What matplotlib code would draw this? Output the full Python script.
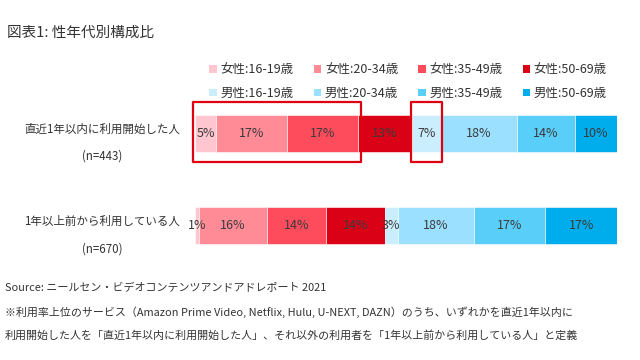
import matplotlib.pyplot as plt
import numpy as np
from matplotlib.patches import Patch, Rectangle

plt.rcParams['font.family'] = ['Noto Sans CJK JP', 'DejaVu Sans']

# rows of the chart
categories = ['直近1年以内に利用開始した人\n(n=443)', '1年以上前から利用している人\n(n=670)']

# shares in % (as printed on the bars)
female_16_19 = [5, 1]
female_20_34 = [17, 16]
female_35_49 = [17, 14]
female_50_69 = [13, 14]
male_16_19 = [7, 3]
male_20_34 = [18, 18]
male_35_49 = [14, 17]
male_50_69 = [10, 17]

series_names = ['女性:16-19歳', '女性:20-34歳', '女性:35-49歳', '女性:50-69歳',
                '男性:16-19歳', '男性:20-34歳', '男性:35-49歳', '男性:50-69歳']
series_values = [female_16_19, female_20_34, female_35_49, female_50_69,
                 male_16_19, male_20_34, male_35_49, male_50_69]
colors = ['#FFC6CF', '#FF8B96', '#FF4C5D', '#DA0016',
          '#CBEEFF', '#9BE1FF', '#59CEF9', '#00ADEC']

vals = np.array(series_values, dtype=float)
shares = vals / vals.sum(axis=0) * 100  # 100% stacked

fig = plt.figure(figsize=(6.4, 3.6), dpi=100)
ax = fig.add_axes([195/640, 1 - 260/360, 422/640, 160/360])

y = np.arange(len(categories))
left = np.zeros(len(categories))
handles = []
for name, v, s, c in zip(series_names, vals, shares, colors):
    bars = ax.barh(y, s, left=left, height=0.4, color=c, edgecolor='white', linewidth=0.4)
    ax.bar_label(bars, labels=[f'{int(x)}%' for x in v], label_type='center',
                 fontsize=9, color='#3a3a3a')
    left = left + s
    handles.append(Patch(facecolor=c, edgecolor='none', label=name))

ax.set_xlim(0, 100)
ax.set_ylim(1.368, -0.362)
ax.axis('off')

# row labels
for i, cat in enumerate(categories):
    ax.text(-3.6, i + 0.1, cat, ha='right', va='center', multialignment='center',
            fontsize=8.3, color='#333333', linespacing=2.4)

# red highlight boxes (first row: female 16-49, male 16-19)
cum = np.cumsum(shares[:, 0])
box1 = Rectangle((-0.5, -0.34), cum[2] + 1.2, 0.65, fill=False, edgecolor='#E0000F',
                 linewidth=1.6, clip_on=False, joinstyle='round')
box2 = Rectangle((cum[3] - 0.3, -0.34), shares[4, 0] + 0.3, 0.65, fill=False,
                 edgecolor='#E0000F', linewidth=1.6, clip_on=False, joinstyle='round')
ax.add_patch(box1)
ax.add_patch(box2)

# legend: 2 rows x 4 columns, column-major order
order = [0, 4, 1, 5, 2, 6, 3, 7]
fig.legend([handles[k] for k in order], [series_names[k] for k in order],
           ncol=4, loc='upper left', bbox_to_anchor=(203/640, 1 - 57/360),
           frameon=False, fontsize=9, handlelength=0.6, handleheight=0.6,
           handletextpad=0.3, columnspacing=1.6, labelspacing=0.85, borderpad=0,
           labelcolor='#333333')

fig.text(7/640, 1 - 33/360, '図表1: 性年代別構成比', fontsize=10.5, color='#333333', va='center')

foot = ['Source: ニールセン・ビデオコンテンツアンドアドレポート 2021',
        '※利用率上位のサービス（Amazon Prime Video, Netflix, Hulu, U-NEXT, DAZN）のうち、いずれかを直近1年以内に',
        '利用開始した人を「直近1年以内に利用開始した人」、それ以外の利用者を「1年以上前から利用している人」と定義']
for k, line in enumerate(foot):
    fig.text(5/640, 1 - (288.5 + 23.5 * k)/360, line, fontsize=7.9, color='#333333', va='center')

fig.savefig('out.png', dpi=100)
